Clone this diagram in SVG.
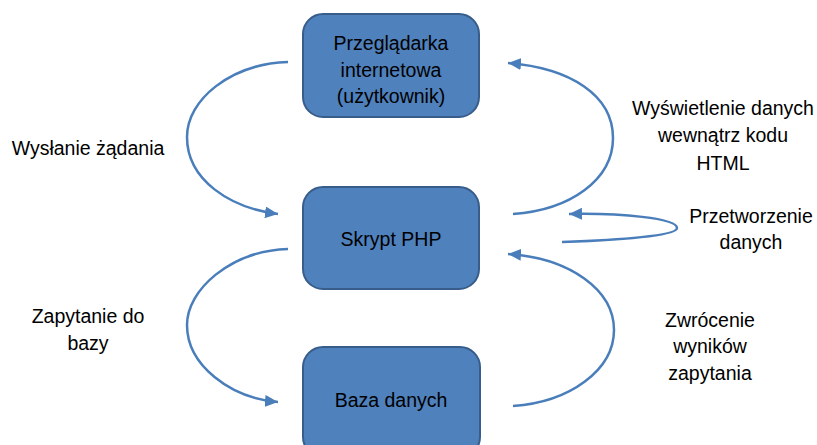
<svg xmlns="http://www.w3.org/2000/svg" width="817" height="445" viewBox="0 0 817 445">
<style>
.box{fill:#4F81BD;stroke:#385D8A;stroke-width:2}
.t{font-family:"Liberation Sans",Arial,sans-serif;font-size:19.5px;fill:#000;text-anchor:middle}
.c{fill:none;stroke:#4A7EBB;stroke-width:2.5}
</style>
<defs>
<marker id="ah" markerUnits="userSpaceOnUse" markerWidth="14" markerHeight="12" refX="13" refY="6" orient="auto">
<path d="M0,0 L13,6 L0,12 Z" fill="#4A7EBB"/>
</marker>
</defs>
<rect width="817" height="445" fill="#fff"/>
<g id="connectors">
<path class="c" marker-end="url(#ah)" d="M288,62 C230,64 187,100 187,137 C187,180 230,208 278,214"/>
<path class="c" marker-end="url(#ah)" d="M513,214 C570,210 613,180 613,138 C613,95 570,68 508,63"/>
<path class="c" marker-end="url(#ah)" d="M562,242 C620,240 677,236 677,228 C677,218 620,213 569,214"/>
<path class="c" marker-end="url(#ah)" d="M288,249 C230,251 187,290 187,325 C187,365 230,398 278,402"/>
<path class="c" marker-end="url(#ah)" d="M513,406 C570,402 614,370 614,330 C614,290 570,258 508,254"/>
</g>
<g id="browser">
<rect class="box" x="303" y="14" width="176" height="103" rx="20"/>
<text class="t" x="391" y="50">Przeglądarka</text>
<text class="t" x="391" y="77">internetowa</text>
<text class="t" x="391" y="103">(użytkownik)</text>
</g>
<g id="php">
<rect class="box" x="303" y="187" width="176" height="102" rx="20"/>
<text class="t" x="391" y="246">Skrypt PHP</text>
</g>
<g id="db">
<rect class="box" x="303" y="347" width="177" height="110" rx="20"/>
<text class="t" x="391" y="407">Baza danych</text>
</g>
<g id="labels">
<text class="t" x="88" y="155">Wysłanie żądania</text>
<text class="t" x="723" y="115">Wyświetlenie danych</text>
<text class="t" x="723" y="142">wewnątrz kodu</text>
<text class="t" x="723" y="170">HTML</text>
<text class="t" x="751" y="223">Przetworzenie</text>
<text class="t" x="751" y="249">danych</text>
<text class="t" x="88" y="323">Zapytanie do</text>
<text class="t" x="88" y="350">bazy</text>
<text class="t" x="710" y="327">Zwrócenie</text>
<text class="t" x="710" y="353">wyników</text>
<text class="t" x="710" y="380">zapytania</text>
</g>
</svg>
